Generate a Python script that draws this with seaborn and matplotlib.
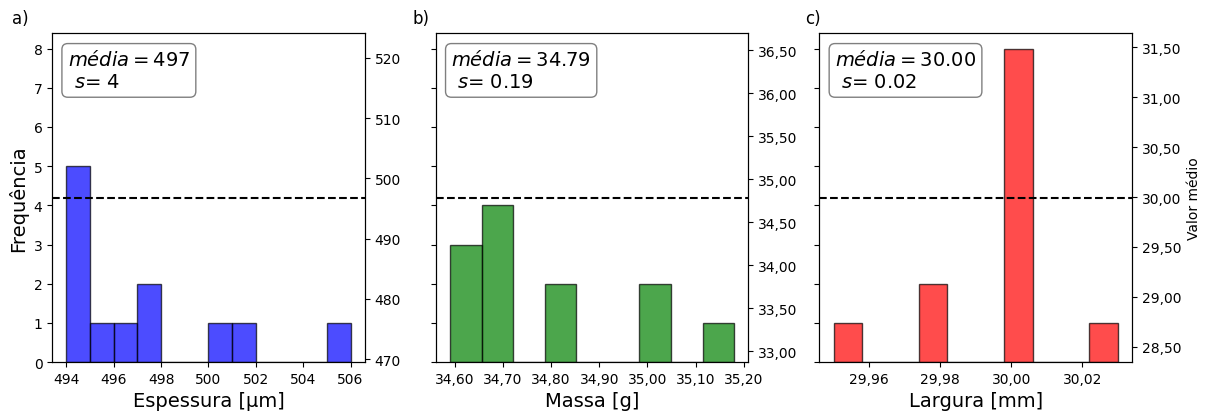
import matplotlib
matplotlib.use("Agg")
import matplotlib.pyplot as plt
from matplotlib.ticker import FuncFormatter
import seaborn as sns

espessura = [494, 494, 494, 494, 494, 495, 496, 497, 497, 500, 501, 506]
massa = [34.59, 34.59, 34.59, 34.67, 34.67, 34.67, 34.67, 34.80, 34.80,
         35.00, 35.00, 35.18]
largura = [29.95, 29.98, 29.98, 30.00, 30.00, 30.00, 30.00, 30.00, 30.00,
           30.00, 30.00, 30.03]

amostras = [espessura, massa, largura]
n_bins = [12, 9, 10]
medias = [496.83, 34.79, 29.995]
desvios = [4, 0.19, 0.02]
casas = [0, 2, 2]
cores = ["blue", "green", "red"]
xlabels = ["Espessura [µm]", "Massa [g]", "Largura [mm]"]
letras = ["a)", "b)", "c)"]
pos_letra = [-0.128, -0.073, -0.045]


def formatador(dec):
    return FuncFormatter(lambda v, p: f"{v:.{dec}f}".replace(".", ","))


fig, axes = plt.subplots(1, 3, figsize=(12.12, 4.14), dpi=100, sharey=True)
fig.subplots_adjust(left=0.043, right=0.934, top=0.918, bottom=0.123, wspace=0.227)

for i, ax in enumerate(axes):
    sns.histplot(x=amostras[i], bins=n_bins[i], color=cores[i], alpha=0.7,
                 edgecolor=(0, 0, 0, 0.7), linewidth=1, ax=ax)
    ax.set_xlabel(xlabels[i], fontsize=14)
    ax.set_ylabel("Frequência" if i == 0 else "", fontsize=14)
    ax.xaxis.set_major_formatter(formatador(casas[i]))
    ax.tick_params(labelsize=10)

    # eixo secundário com o valor médio
    ax2 = ax.twinx()
    ax2.axhline(medias[i], color="black", linestyle="--", linewidth=1.5)
    ax2.yaxis.set_major_formatter(formatador(casas[i]))
    ax2.tick_params(labelsize=10)
    if i == 2:
        ax2.set_ylabel("Valor médio", fontsize=10)

    m = f"{medias[i]:.{casas[i]}f}"
    s = f"{desvios[i]:.{casas[i]}f}"
    props = dict(boxstyle="round", facecolor="white", alpha=0.5)
    ax.text(0.05, 0.95, f"$média = {m}$\n $s$= {s}", transform=ax.transAxes,
            fontsize=14, va="top", bbox=props)
    ax.text(pos_letra[i], 1.03, letras[i], transform=ax.transAxes, fontsize=12)

plt.savefig("out.png", dpi=100)
